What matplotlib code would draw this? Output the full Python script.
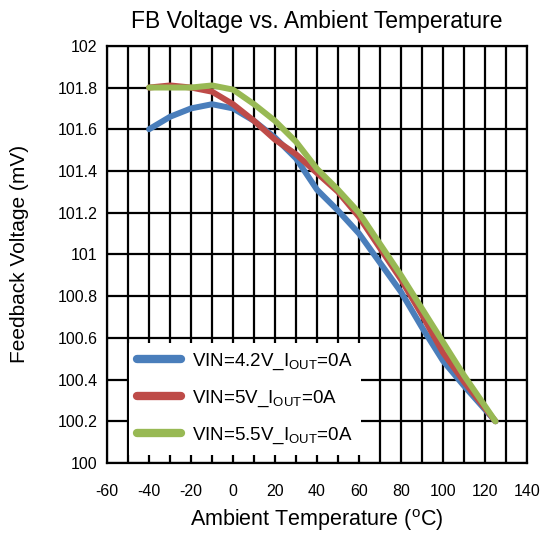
import matplotlib
matplotlib.use('Agg')
import matplotlib.pyplot as plt

plt.rcParams['font.family'] = ['Liberation Sans', 'DejaVu Sans']
plt.rcParams['mathtext.fontset'] = 'custom'
plt.rcParams['mathtext.rm'] = 'Liberation Sans'
plt.rcParams['mathtext.it'] = 'Liberation Sans'
plt.rcParams['axes.unicode_minus'] = False

# temperature points (degC)
temp = [-40, -30, -20, -10, 0, 10, 20, 30, 40, 50, 60, 70, 80, 90, 100, 110, 125]

# feedback voltage (mV) per input voltage
vin_42 = [101.60, 101.66, 101.70, 101.72, 101.70, 101.64, 101.56, 101.46, 101.31,
          101.21, 101.10, 100.96, 100.82, 100.65, 100.49, 100.37, 100.20]
vin_5 = [101.80, 101.81, 101.80, 101.78, 101.72, 101.64, 101.55, 101.48, 101.39,
         101.30, 101.18, 101.03, 100.88, 100.71, 100.53, 100.39, 100.20]
vin_55 = [101.80, 101.80, 101.80, 101.81, 101.79, 101.72, 101.64, 101.54, 101.41,
          101.31, 101.20, 101.05, 100.90, 100.74, 100.58, 100.42, 100.20]

labels = ['VIN=4.2V_I$_{\\mathrm{OUT}}$=0A',
          'VIN=5V_I$_{\\mathrm{OUT}}$=0A',
          'VIN=5.5V_I$_{\\mathrm{OUT}}$=0A']
colors = ['#4a7ebb', '#be4b48', '#98b954']

fig = plt.figure(figsize=(5.41, 5.39), dpi=100)
ax = fig.add_axes([0.198, 0.141, 0.776, 0.774])

for y, lab, c in zip([vin_42, vin_5, vin_55], labels, colors):
    ax.plot(temp, y, color=c, linewidth=4.3, label=lab,
            solid_capstyle='round', solid_joinstyle='round', zorder=3)

ax.set_xlim(-60, 140)
ax.set_ylim(100, 102)
ax.set_xticks(range(-60, 141, 20))
ax.set_xticks(range(-60, 141, 10), minor=True)
ax.set_yticks([100 + 0.2 * i for i in range(11)])
ax.set_yticklabels(['100', '100.2', '100.4', '100.6', '100.8', '101',
                    '101.2', '101.4', '101.6', '101.8', '102'])

# grid every 10 degC and every 0.2 mV
ax.grid(True, which='both', color='black', linewidth=1.6)
ax.set_axisbelow(True)
ax.tick_params(which='both', length=0, labelsize=11.5)
ax.tick_params(axis='x', pad=15)
ax.tick_params(axis='y', pad=7)
for s in ax.spines.values():
    s.set_linewidth(1.6)

ax.set_title('FB Voltage vs. Ambient Temperature', fontsize=16.5, pad=13)
ax.set_xlabel('Ambient Temperature ($^{\\mathrm{o}}$C)', fontsize=15.5, labelpad=6)
ax.set_ylabel('Feedback Voltage (mV)', fontsize=15, labelpad=20)

leg = ax.legend(loc='lower left', bbox_to_anchor=(0.052, 0.02), fontsize=13.5,
                frameon=True, fancybox=False, edgecolor='none', framealpha=1,
                handlelength=2.3, handleheight=1.0, handletextpad=0.6,
                labelspacing=0.85, borderaxespad=0, borderpad=0.45)
leg.set_zorder(5)
for h in leg.get_lines():
    h.set_linewidth(6)

plt.savefig('out.png', dpi=100)
plt.close()
